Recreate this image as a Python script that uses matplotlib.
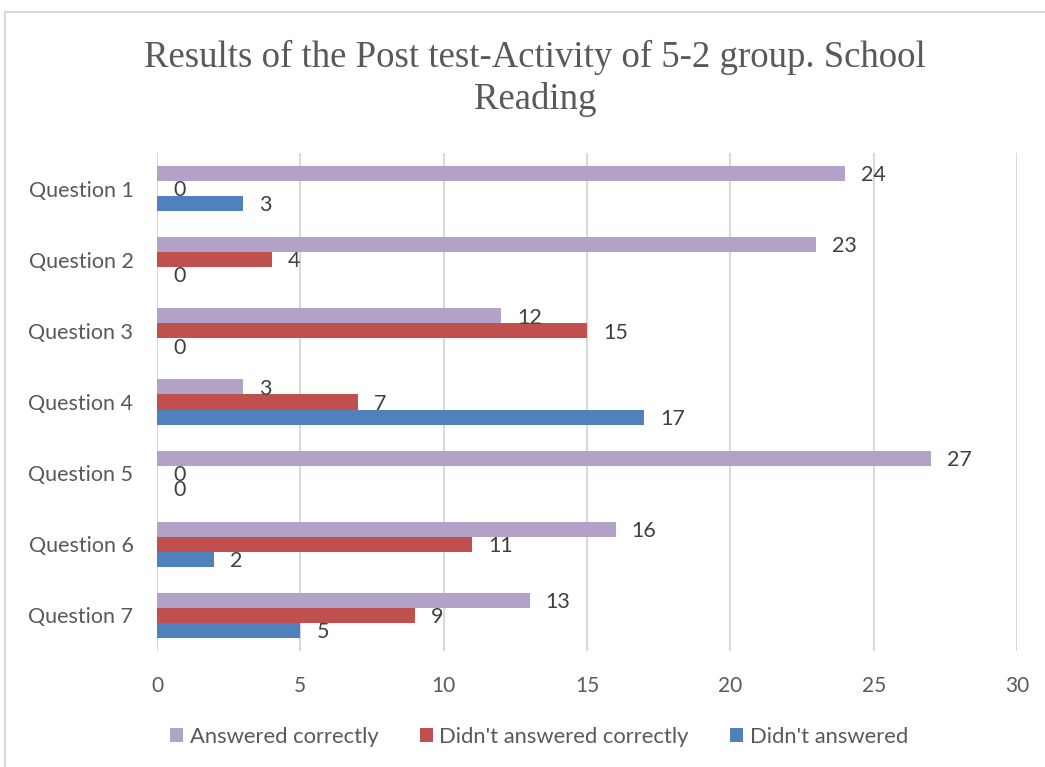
import matplotlib
matplotlib.use("Agg")
import matplotlib.pyplot as plt
from matplotlib.lines import Line2D
from matplotlib.patches import Patch
import numpy as np

questions = ["Question 1", "Question 2", "Question 3", "Question 4",
             "Question 5", "Question 6", "Question 7"]
answered_correctly = [24, 23, 12, 3, 27, 16, 13]
answered_wrong = [0, 4, 15, 7, 0, 11, 9]
not_answered = [3, 0, 0, 17, 0, 2, 5]

series_names = ["Answered correctly", "Didn't answered correctly", "Didn't answered"]
series_colors = ["#B3A2C7", "#C0504D", "#4F81BD"]
x_ticks = [0, 5, 10, 15, 20, 25, 30]

title = "Results of the Post test-Activity of 5-2 group. School\nReading"

W, H = 1045, 767
fig = plt.figure(figsize=(W / 100, H / 100), dpi=100)
label_font = "Lato"

# outer chart frame (top and left edges visible)
fig.add_artist(Line2D([5 / W, 5 / W], [0, 1 - 12 / H], transform=fig.transFigure,
                      color="#D9D9D9", lw=1.5))
fig.add_artist(Line2D([5 / W, 1], [1 - 12 / H, 1 - 12 / H], transform=fig.transFigure,
                      color="#D9D9D9", lw=1.5))

ax = fig.add_axes([157 / W, 1 - 651 / H, (1017 - 157) / W, (651 - 153) / H])

pos = np.arange(len(questions))
bh = 0.211
data = [answered_correctly, answered_wrong, not_answered]
offsets = [-bh, 0, bh]
for vals, off, col, name in zip(data, offsets, series_colors, series_names):
    ax.barh(pos + off, vals, height=bh, color=col, label=name, zorder=3)
    for y, v in zip(pos + off, vals):
        ax.annotate(str(v), xy=(v, y), xytext=(11.5, -1.2), textcoords="offset points",
                    ha="left", va="center", fontsize=15.5, family=label_font,
                    color="#404040", zorder=4)

ax.set_xlim(0, 30)
ax.set_ylim(len(questions) - 0.5, -0.5)
ax.set_xticks(x_ticks)
ax.set_xticklabels([str(t) for t in x_ticks], family=label_font, fontsize=15,
                   color="#595959")
ax.set_yticks(pos)
ax.set_yticklabels(questions, family=label_font, fontsize=15.5, color="#595959")
ax.tick_params(axis="both", length=0)
ax.tick_params(axis="x", pad=18)
ax.tick_params(axis="y", pad=17)
ax.grid(axis="x", color="#D9D9D9", lw=1.5, zorder=0)
for s in ax.spines.values():
    s.set_visible(False)

fig.text(535 / W, 1 - 78.5 / H, title, ha="center", va="center", family="Liberation Serif",
         fontsize=26.5, color="#595959", linespacing=1.28)

handles = [Patch(facecolor=c, label=n) for c, n in zip(series_colors, series_names)]
fig.legend(handles=handles, loc="center", bbox_to_anchor=(539 / W, 1 - 737 / H), ncol=3,
           frameon=False, prop={"family": label_font, "size": 15.8},
           handlelength=0.6, handleheight=0.6, handletextpad=0.3, columnspacing=1.87,
           labelcolor="#595959")

fig.savefig("out.png", dpi=100, facecolor="white")
